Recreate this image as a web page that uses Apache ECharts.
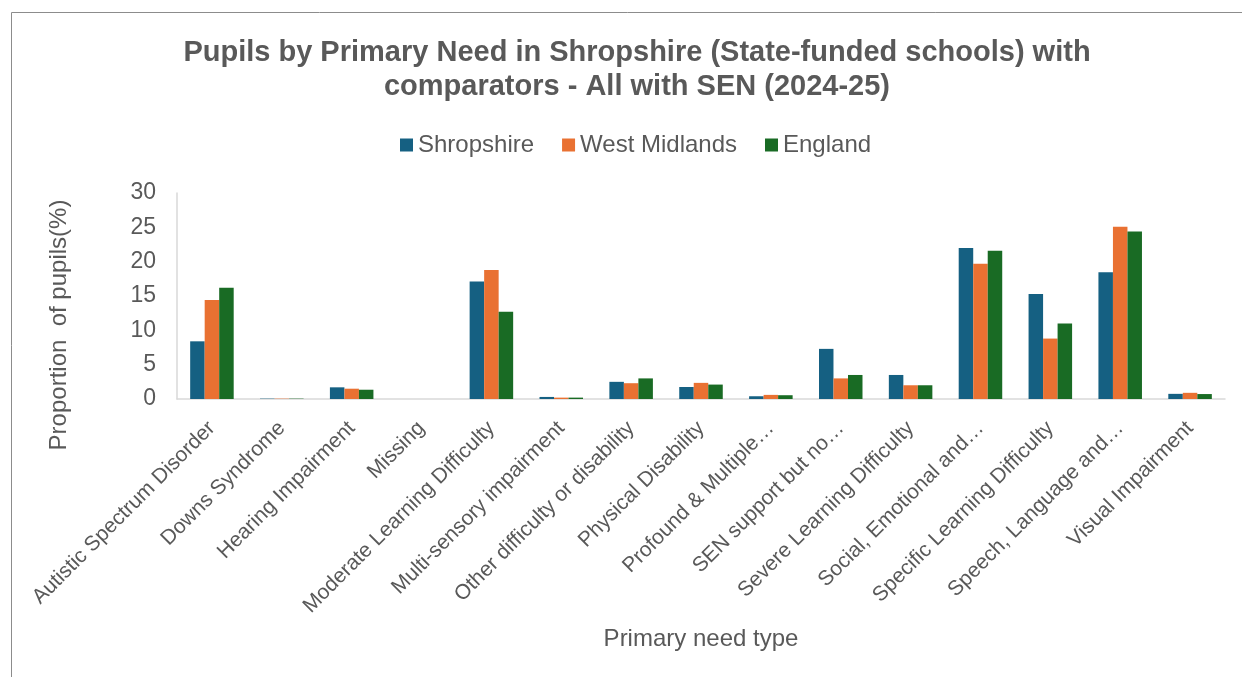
<!DOCTYPE html>
<html>
<head>
<meta charset="utf-8">
<title>Pupils by Primary Need in Shropshire</title>
<script src="https://cdn.jsdelivr.net/npm/echarts@6/dist/echarts.min.js"></script>
<style>
  html, body { margin: 0; padding: 0; background: #ffffff; }
  #chart { width: 1242px; height: 677px; }
</style>
</head>
<body>
<div id="chart"></div>
<script>
// Primary need categories (long names shortened as on the axis)
const categories = [
  'Autistic Spectrum Disorder',
  'Downs Syndrome',
  'Hearing Impairment',
  'Missing',
  'Moderate Learning Difficulty',
  'Multi-sensory impairment',
  'Other difficulty or disability',
  'Physical Disability',
  'Profound & Multiple…',
  'SEN support but no…',
  'Severe Learning Difficulty',
  'Social, Emotional and…',
  'Specific Learning Difficulty',
  'Speech, Language and…',
  'Visual Impairment'
];

// Proportion of pupils with SEN (%) by primary need
const shropshire    = [8.4, 0.05, 1.7, 0, 17.1, 0.3, 2.5, 1.75, 0.4, 7.3, 3.5, 22.0, 15.3, 18.45, 0.75];
const westMidlands  = [14.4, 0.05, 1.5, 0, 18.8, 0.2, 2.3, 2.35, 0.6, 3.0, 2.0, 19.7, 8.8, 25.1, 0.9];
const england       = [16.2, 0.05, 1.35, 0, 12.7, 0.2, 3.0, 2.1, 0.55, 3.5, 2.0, 21.6, 11.0, 24.4, 0.72];

const yTicks = { min: 0, max: 30, interval: 5 };

const textColor = '#595959';
const fontFamily = '"Liberation Sans", Arial, sans-serif';

const chart = echarts.init(document.getElementById('chart'));

const barStyle = { barGap: '0%', barCategoryGap: '37.7%' };

chart.setOption({
  animation: false,
  textStyle: { fontFamily: fontFamily, color: textColor },
  title: {
    text: 'Pupils by Primary Need in Shropshire (State-funded schools) with\ncomparators - All with SEN (2024-25)',
    left: 632,
    top: 31,
    textAlign: 'center',
    textStyle: {
      fontFamily: fontFamily,
      fontSize: 29,
      fontWeight: 'bold',
      color: textColor,
      lineHeight: 34
    }
  },
  legend: {
    data: ['Shropshire', 'West Midlands', 'England'],
    left: 395,
    top: 128,
    itemWidth: 13,
    itemHeight: 13,
    itemGap: 28,
    icon: 'rect',
    textStyle: { fontSize: 24, color: textColor, fontFamily: fontFamily }
  },
  grid: {
    left: 177,
    right: 17,
    top: 193,
    bottom: 278,
    containLabel: false
  },
  xAxis: {
    type: 'category',
    data: categories,
    axisLine: { show: true, lineStyle: { color: '#d9d9d9', width: 1.5 } },
    axisTick: { show: false },
    axisLabel: {
      rotate: 45,
      interval: 0,
      fontSize: 21,
      color: textColor,
      margin: 26
    }
  },
  yAxis: {
    type: 'value',
    min: yTicks.min,
    max: yTicks.max,
    interval: yTicks.interval,
    axisLine: { show: true, lineStyle: { color: '#d9d9d9', width: 1.5 } },
    axisTick: { show: false },
    splitLine: { show: false },
    axisLabel: { fontSize: 23, color: textColor, margin: 21 }
  },
  series: [
    Object.assign({ name: 'Shropshire', type: 'bar', data: shropshire, itemStyle: { color: '#156082' } }, barStyle),
    Object.assign({ name: 'West Midlands', type: 'bar', data: westMidlands, itemStyle: { color: '#E97132' } }, barStyle),
    Object.assign({ name: 'England', type: 'bar', data: england, itemStyle: { color: '#196B24' } }, barStyle)
  ],
  graphic: [
    {
      type: 'rect',
      shape: { x: 11.5, y: 12.5, width: 1300, height: 700 },
      style: { fill: 'none', stroke: '#8c8c8c', lineWidth: 1 },
      silent: true
    },
    {
      type: 'text',
      x: 59,
      y: 325,
      rotation: Math.PI / 2,
      style: {
        text: 'Proportion  of pupils(%)',
        fontSize: 24,
        fontFamily: fontFamily,
        fill: textColor,
        textAlign: 'center',
        textVerticalAlign: 'middle'
      }
    },
    {
      type: 'text',
      x: 701,
      y: 639,
      style: {
        text: 'Primary need type',
        fontSize: 24,
        fontFamily: fontFamily,
        fill: textColor,
        textAlign: 'center',
        textVerticalAlign: 'middle'
      }
    }
  ]
});
</script>
</body>
</html>
